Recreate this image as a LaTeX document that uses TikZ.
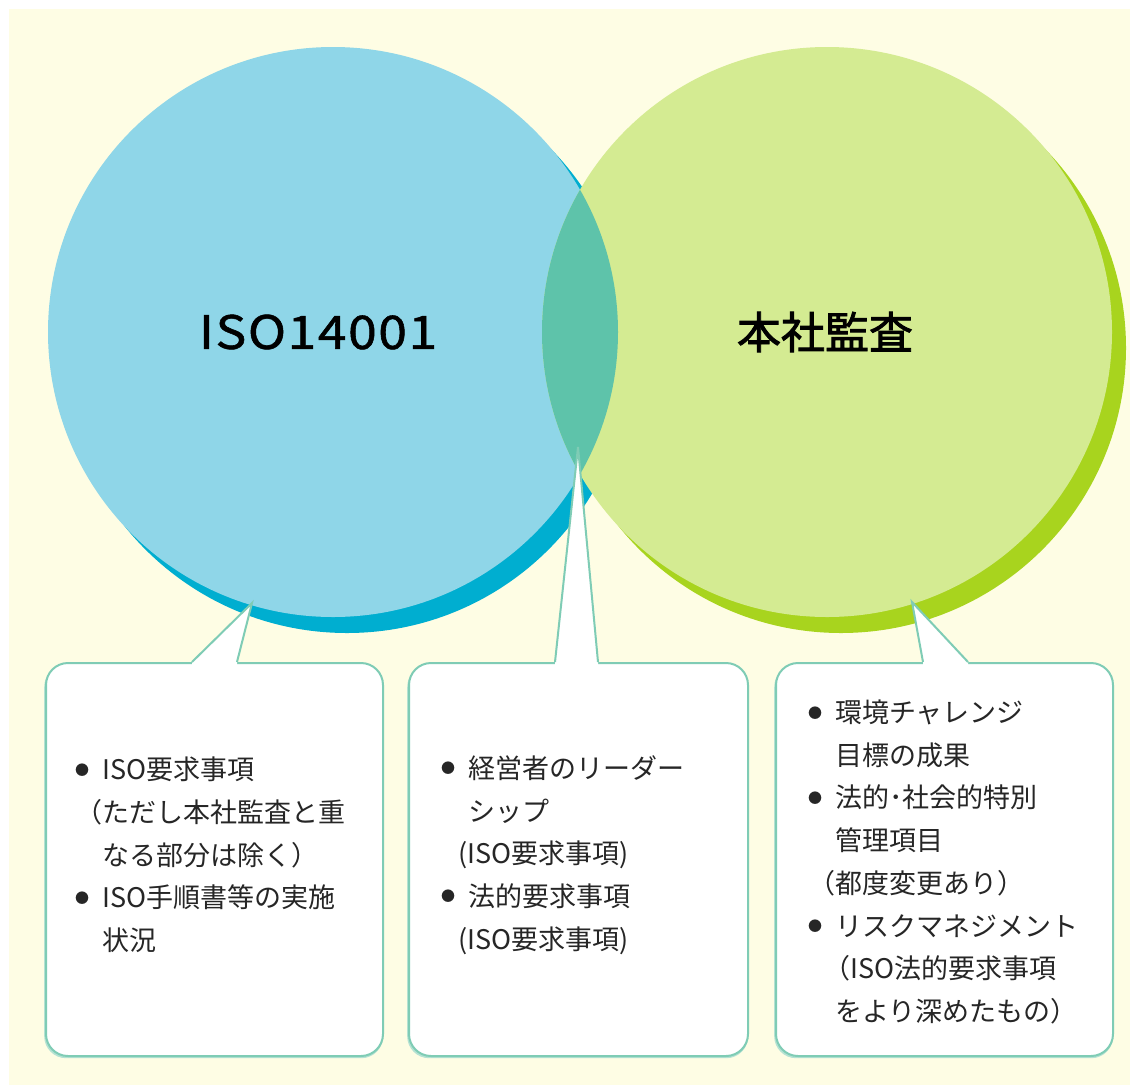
\documentclass[tikz,border=0pt]{standalone}
\usepackage{fontspec}
\setmainfont{Noto Sans CJK JP}
\newfontfamily\titlefont[LetterSpace=3.5, FakeStretch=1.12, FakeBold=1.2]{Noto Sans CJK JP}
\newfontfamily\titlejp[FakeBold=2]{Noto Sans CJK JP}
\usetikzlibrary{calc}
\definecolor{cream}{HTML}{FEFDE4}
\definecolor{bluefill}{HTML}{8FD6E8}
\definecolor{blueshadow}{HTML}{00AED0}
\definecolor{greenfill}{HTML}{D4EB92}
\definecolor{greenshadow}{HTML}{A8D41E}
\definecolor{lensfill}{HTML}{5EC3AA}
\definecolor{boxline}{HTML}{7FCCB5}
\definecolor{boxshadow}{HTML}{B5E2D3}
\definecolor{inkc}{HTML}{262626}
\newcommand\bul{\makebox[27pt][l]{\raisebox{4.5pt}{\fontsize{14}{14}\selectfont ●}}}
\begin{document}
\begin{tikzpicture}[x=1pt,y=-1pt,
  disc/.style={circle, inner sep=0pt, minimum size=570pt},
  callout/.style={draw=boxline, line width=2pt, fill=white, rounded corners=22pt,
    minimum height=393pt, inner sep=0pt, anchor=north west},
  calloutshadow/.style={fill=boxshadow, rounded corners=22pt,
    minimum height=393pt, inner sep=0pt, anchor=north west},
  bodytext/.style={font=\fontsize{27}{42.7}\selectfont, align=left, anchor=west,
    inner sep=0pt, text=inkc},
  title/.style={inner sep=0pt, text=black},
  pointerfill/.style={fill=white},
  pointerline/.style={draw=boxline, line width=2pt, line join=miter}
]
\useasboundingbox (0,0) rectangle (1130,1085);
\fill[cream] (9,9) rectangle (1130,1085);

% circles with offset shadows
\node[disc, fill=blueshadow] (isoS) at (347,348) {};
\node[disc, fill=bluefill] (iso) at (333,332) {};
\node[disc, fill=greenshadow] (honS) at (841,348) {};
\node[disc, fill=greenfill] (hon) at (827,332) {};
\begin{scope}
  \clip (333,332) circle[radius=285pt];
  \fill[lensfill] (827,332) circle[radius=285pt];
\end{scope}

\node[title, font=\titlefont\fontsize{46}{46}\selectfont] (isoL) at (318,332) {ISO14001};
\node[title, font=\titlejp\fontsize{44}{44}\selectfont] (honL) at (825,332) {本社監査};

% callout boxes
\node[calloutshadow, minimum width=339pt] (s1) at (44,665) {};
\node[calloutshadow, minimum width=341pt] (s2) at (407,665) {};
\node[calloutshadow, minimum width=339pt] (s3) at (774,665) {};
\node[callout, minimum width=337pt] (box1) at (45,662) {};
\node[callout, minimum width=339pt] (box2) at (408,662) {};
\node[callout, minimum width=337pt] (box3) at (775,662) {};

% pointers
\coordinate (a1) at ($(box1.north west)+(147,0)$);
\coordinate (b1) at ($(box1.north west)+(192,0)$);
\coordinate (t1) at (252,603);
\coordinate (a2) at ($(box2.north west)+(147,0)$);
\coordinate (b2) at ($(box2.north west)+(190,0)$);
\coordinate (t2) at (578,447);
\coordinate (a3) at ($(box3.north west)+(148,0)$);
\coordinate (b3) at ($(box3.north west)+(193,0)$);
\coordinate (t3) at (912,602);
\foreach \i in {1,2,3}{
  \fill[pointerfill] (a\i) -- (t\i) -- (b\i) -- ($(b\i)+(0,3)$) -- ($(a\i)+(0,3)$) -- cycle;
  \draw[pointerline] (a\i) -- (t\i) -- (b\i);
}

% texts
\node[bodytext] (txt1) at (75,855) {%
\bul ISO要求事項\\
（ただし本社監査と重\\
\hspace*{27pt}なる部分は除く）\\
\bul ISO手順書等の実施\\
\hspace*{27pt}状況};

\node[bodytext] (txt2) at (441,855) {%
\bul 経営者のリーダー\\
\hspace*{27pt}シップ\\
\hspace*{17pt}(ISO要求事項)\\
\bul 法的要求事項\\
\hspace*{17pt}(ISO要求事項)};

\node[bodytext] (txt3) at (808,862) {%
\bul 環境チャレンジ\\
\hspace*{27pt}目標の成果\\
\bul 法的･社会的特別\\
\hspace*{27pt}管理項目\\
（都度変更あり）\\
\bul リスクマネジメント\\
\hspace*{15pt}（ISO法的要求事項\\
\hspace*{27pt}をより深めたもの）};
\end{tikzpicture}
\end{document}
